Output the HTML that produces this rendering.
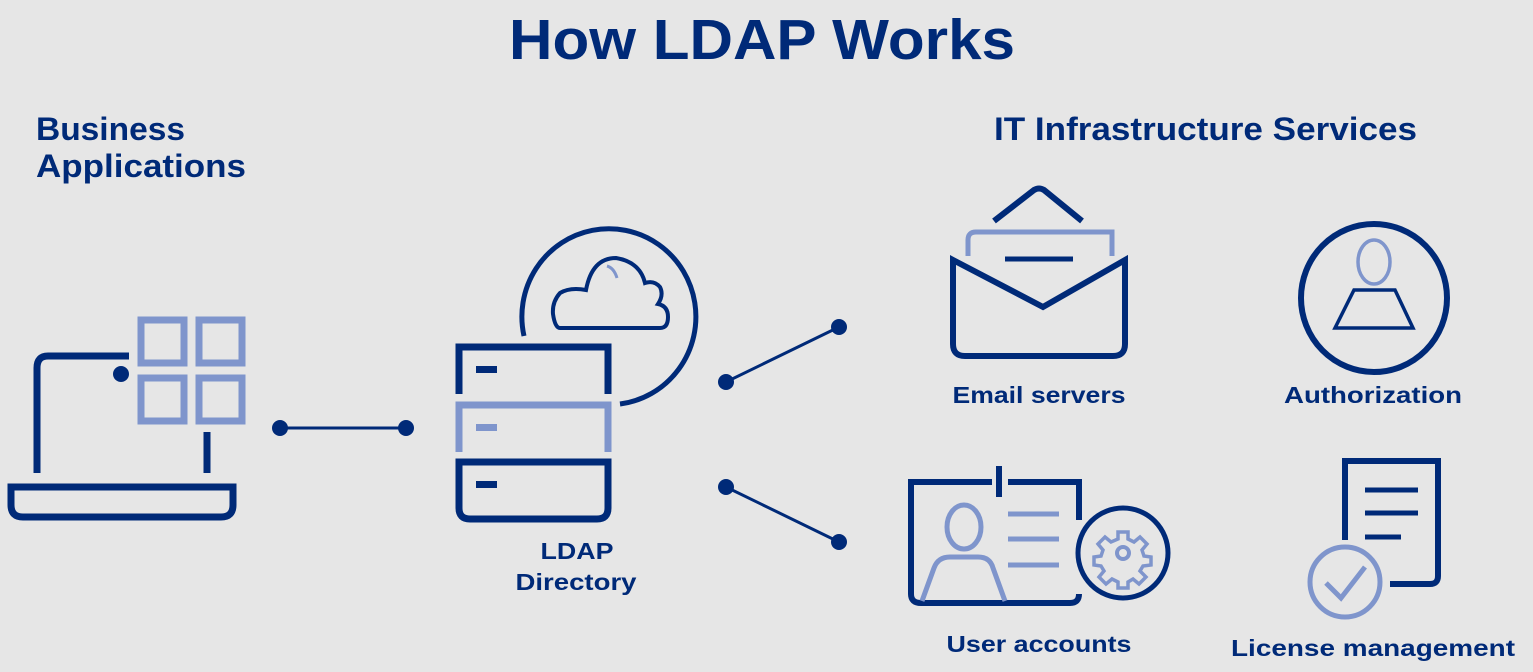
<!DOCTYPE html>
<html><head><meta charset="utf-8"><style>
html,body{margin:0;padding:0;background:#e6e6e6;}
svg{display:block;}
text{font-family:"Liberation Sans",sans-serif;font-weight:bold;fill:#002a78;}
</style></head><body>
<svg width="1533" height="672" viewBox="0 0 1533 672" xmlns="http://www.w3.org/2000/svg">
<rect width="1533" height="672" fill="#e6e6e6"/>
<text x="762" y="59" font-size="57" text-anchor="middle" textLength="506" lengthAdjust="spacingAndGlyphs">How LDAP Works</text>
<text x="36" y="140" font-size="32" textLength="149" lengthAdjust="spacingAndGlyphs">Business</text>
<text x="36" y="177" font-size="32" textLength="210" lengthAdjust="spacingAndGlyphs">Applications</text>
<text x="994" y="140" font-size="32" textLength="423" lengthAdjust="spacingAndGlyphs">IT Infrastructure Services</text>
<text x="577" y="559" font-size="23" text-anchor="middle" textLength="73" lengthAdjust="spacingAndGlyphs">LDAP</text>
<text x="576" y="590" font-size="23" text-anchor="middle" textLength="121" lengthAdjust="spacingAndGlyphs">Directory</text>
<text x="1039" y="403" font-size="23" text-anchor="middle" textLength="173" lengthAdjust="spacingAndGlyphs">Email servers</text>
<text x="1373" y="403" font-size="23" text-anchor="middle" textLength="178" lengthAdjust="spacingAndGlyphs">Authorization</text>
<text x="1039" y="652" font-size="23" text-anchor="middle" textLength="185" lengthAdjust="spacingAndGlyphs">User accounts</text>
<text x="1373" y="656" font-size="23" text-anchor="middle" textLength="284" lengthAdjust="spacingAndGlyphs">License management</text>

<g fill="none" stroke="#002a78" stroke-width="7">
<path d="M129 356 H48 Q37 356 37 368 V473"/>
<path d="M207 432 V473"/>
<path d="M11 487 H233 V505 Q233 517 221 517 H23 Q11 517 11 505 Z"/>
<path d="M459 394 V347 H608 V394"/>
<path d="M459 462 H608 V508 Q608 519 597 519 H470 Q459 519 459 508 Z"/>
<path d="M524 336 A87 88 0 1 1 620 404" stroke-width="5"/>
<path d="M560 328 H660 Q668 328 668 317 Q668 306 658 304 Q664 295 660 287 Q654 280 645 283 Q640 262 616 258 Q592 258 586 290 Q570 287 560 293 Q552 302 553 314 Q555 328 560 328 Z" stroke-width="4"/>
<path d="M280 428 H406 M726 382 L839 327 M726 487 L839 542" stroke-width="3"/>
<path d="M994 221 L1034 190 Q1039 187 1044 190 L1082 221" stroke-width="6"/>
<path d="M953 260 L1043 307 L1125 260 V344 Q1125 356 1113 356 H965 Q953 356 953 344 Z" stroke-width="6"/>
<path d="M1005 259 H1073" stroke-width="5"/>
<ellipse cx="1374" cy="298" rx="73" ry="74" stroke-width="6"/>
<path d="M1354 290 H1395 L1413 328 H1335 Z" stroke-width="3.5"/>
<path d="M992 482 H911 V594 Q911 603 921 603 H1070 Q1079 603 1079 594 M1079 520 V482 H1008" stroke-width="6"/>
<path d="M999 466 V497" stroke-width="6"/>
<circle cx="1123" cy="553" r="45" stroke-width="5"/>
<path d="M1345 540 V461 H1438 V576 Q1438 584 1430 584 H1390" stroke-width="6"/>
<path d="M1365 490 H1418 M1365 513 H1418 M1365 537 H1401" stroke-width="5"/>
</g>
<circle cx="121" cy="374" r="8" fill="#002a78"/>
<circle cx="280" cy="428" r="8" fill="#002a78"/><circle cx="406" cy="428" r="8" fill="#002a78"/>
<circle cx="726" cy="382" r="8" fill="#002a78"/><circle cx="839" cy="327" r="8" fill="#002a78"/>
<circle cx="726" cy="487" r="8" fill="#002a78"/><circle cx="839" cy="542" r="8" fill="#002a78"/>
<rect x="476" y="366" width="21" height="7" fill="#002a78"/>
<rect x="476" y="481" width="21" height="7" fill="#002a78"/>

<g fill="none" stroke="#7f95cc" stroke-width="7">
<rect x="141" y="320" width="43" height="43"/>
<rect x="199" y="320" width="43" height="43"/>
<rect x="141" y="378" width="43" height="43"/>
<rect x="199" y="378" width="43" height="43"/>
<path d="M459 452 V405 H608 V452"/>
<path d="M607 266 Q614 268 617 278" stroke-width="3"/>
<path d="M968 256 V240 Q968 232 976 232 H1112 V256" stroke-width="5"/>
<ellipse cx="1374" cy="262" rx="16" ry="22" stroke-width="3.5"/>
<ellipse cx="964" cy="527" rx="17" ry="22" stroke-width="5"/>
<path d="M922 601 L934 568 Q938 557 950 557 H978 Q990 557 993 568 L1005 601" stroke-width="5"/>
<path d="M1008 514 H1059 M1008 539 H1059 M1008 565 H1059" stroke-width="5"/>
<circle cx="1345" cy="582" r="35" stroke-width="5"/>
<path d="M1326 583 L1341 598 L1365 567" stroke-width="5"/>
<circle cx="1123" cy="553" r="6" stroke-width="4"/>
<path d="M1118 532 H1128 V539 L1134 542 L1140 537 L1147 544 L1142 550 L1144 556 L1151 557 V565 L1143 566 L1140 571 L1146 577 L1139 584 L1133 579 L1128 582 V588 H1118 V582 L1112 579 L1106 584 L1099 577 L1104 571 L1101 566 L1094 565 V557 L1101 556 L1103 550 L1098 544 L1105 537 L1111 542 L1118 539 Z" stroke-width="3.5"/>
</g>
<rect x="476" y="424" width="21" height="7" fill="#7f95cc"/>
</svg>
</body></html>
